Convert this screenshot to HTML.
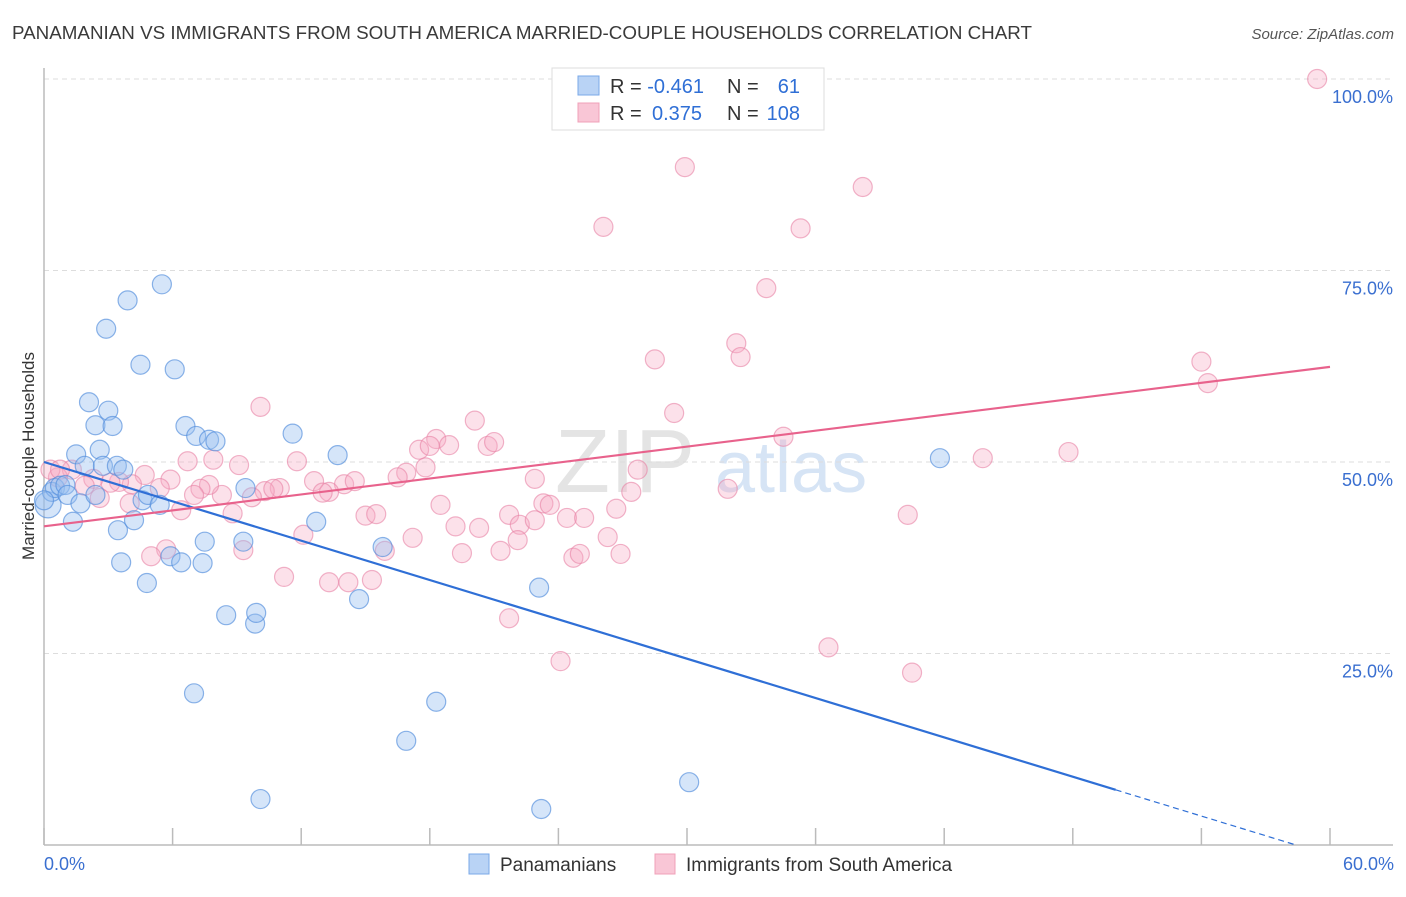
<!DOCTYPE html>
<html><head><meta charset="utf-8"><style>
body{margin:0;background:#fff;font-family:"Liberation Sans",sans-serif;}
svg text{font-family:"Liberation Sans",sans-serif;}
</style></head><body>
<svg id="chart" width="1406" height="892" xmlns="http://www.w3.org/2000/svg">
<text x="12" y="39" font-size="18.5" fill="#3a3a3a" textLength="1020" lengthAdjust="spacingAndGlyphs">PANAMANIAN VS IMMIGRANTS FROM SOUTH AMERICA MARRIED-COUPLE HOUSEHOLDS CORRELATION CHART</text>
<text x="1394" y="39" font-size="15" fill="#555" font-style="italic" text-anchor="end">Source: ZipAtlas.com</text>
<text x="555" y="492" font-size="90" fill="#e4e4e4" font-family="Liberation Serif">ZIP</text>
<text x="715" y="492" font-size="72" fill="#d6e4f5">atlas</text>
<g id="grid"></g>
<g id="axes"></g>
<g id="pts"></g>
<g id="lines"></g>
<text transform="translate(34,456) rotate(-90)" font-size="17" fill="#333" text-anchor="middle">Married-couple Households</text>
<g>
<rect x="552" y="68" width="272" height="62" fill="#fff" stroke="#ddd"/>
<rect x="578" y="76" width="21" height="19" fill="#b9d3f5" stroke="#7aa8e8"/>
<rect x="578" y="103" width="21" height="19" fill="#f9c6d6" stroke="#f0a0b8"/>
<text x="610" y="93" font-size="20" fill="#333">R = <tspan fill="#2f6fd6">-0.461</tspan></text>
<text x="727" y="93" font-size="20" fill="#333">N =</text>
<text x="800" y="93" font-size="20" fill="#2f6fd6" text-anchor="end">61</text>
<text x="610" y="120" font-size="20" fill="#333">R = </text>
<text x="652" y="120" font-size="20" fill="#2f6fd6">0.375</text>
<text x="727" y="120" font-size="20" fill="#333">N =</text>
<text x="800" y="120" font-size="20" fill="#2f6fd6" text-anchor="end">108</text>
</g>
<g>
<rect x="469" y="854" width="20" height="20" fill="#b9d3f5" stroke="#7aa8e8"/>
<text x="500" y="871" font-size="19" fill="#333">Panamanians</text>
<rect x="655" y="854" width="20" height="20" fill="#f9c6d6" stroke="#f0a0b8"/>
<text x="686" y="871" font-size="19" fill="#333">Immigrants from South America</text>
</g>
<text x="44" y="870" font-size="18" fill="#3a6fd0">0.0%</text>
<text x="1394" y="870" font-size="18" fill="#3a6fd0" text-anchor="end">60.0%</text>
</svg>
<script>
const yTicks=[25,50,75,100];
const yTickLabels=["25.0%","50.0%","75.0%","100.0%"];
const xTicks=[0,6,12,18,24,30,36,42,48,54,60];
const blueX=[0.19,0.37,0.51,0.75,1.0,1.1,1.35,1.5,1.7,1.9,2.1,2.4,2.4,2.6,2.75,2.9,3.0,3.2,3.4,3.45,3.6,3.7,3.9,4.2,4.5,4.6,4.8,4.85,5.4,5.5,5.9,6.1,6.4,6.6,7.0,7.1,7.4,7.5,7.7,8.0,8.5,9.3,9.4,9.85,9.9,10.1,11.6,12.7,13.7,14.7,15.8,16.9,18.3,23.1,23.2,30.1,41.8,0];
const blueY=[44.4,46.1,46.6,46.9,47.0,45.7,42.2,51.0,44.6,49.5,57.8,45.7,54.8,51.6,49.5,67.4,56.7,54.7,49.5,41.1,36.9,49.0,71.1,42.4,62.7,45.0,34.2,45.7,44.4,73.2,37.7,62.1,36.9,54.7,19.8,53.4,36.8,39.6,52.9,52.7,30.0,39.6,46.6,28.9,30.3,6.0,53.7,42.2,50.9,32.1,38.9,13.6,18.7,33.6,4.7,8.2,50.5,45.0];
const pinkX=[59.4,29.9,38.2,26.1,35.3,33.7,32.3,32.5,28.5,54.0,54.3,29.4,20.1,34.5,47.8,43.8,18.3,17.5,18.0,18.9,20.7,21.0,17.8,16.9,16.5,27.7,22.9,10.1,6.7,7.9,9.1,11.8,12.6,14.0,14.5,15.0,15.5,13.3,13.0,11.0,10.3,10.7,9.7,8.3,7.7,7.3,7.0,5.9,5.4,4.7,4.1,3.5,3.1,2.6,2.3,1.9,1.3,0.65,0.3,0.75,18.5,19.2,20.3,21.3,21.7,22.2,22.9,23.3,23.6,24.4,25.2,26.7,27.4,26.3,26.9,24.7,25.0,22.1,19.5,17.2,15.9,15.3,14.2,13.3,11.2,12.1,9.3,8.8,6.4,5.7,5.0,4.0,21.7,24.1,36.6,40.5,40.3,31.9];
const pinkY=[100,88.5,85.9,80.7,80.5,72.7,65.5,63.7,63.4,63.1,60.3,56.4,55.4,53.3,51.3,50.5,53.0,51.6,52.1,52.2,52.1,52.6,49.3,48.6,48.0,49.0,47.8,57.2,50.1,50.3,49.6,50.1,47.5,47.1,47.5,43.0,43.2,46.1,46.0,46.6,46.2,46.5,45.4,45.7,47.0,46.5,45.7,47.7,46.6,48.3,47.1,47.4,47.3,45.3,47.8,46.9,49.0,48.0,49.0,49.0,44.4,41.6,41.4,38.4,43.1,41.8,42.4,44.6,44.4,42.7,42.7,43.9,46.1,40.2,38.0,37.5,38.0,39.8,38.1,40.1,38.4,34.6,34.3,34.3,35.0,40.5,38.5,43.3,43.7,38.6,37.7,44.6,29.6,24.0,25.8,22.5,43.1,46.5];
const blueLine=[50.0,-0.856];
const pinkLine=[41.6,0.347];
const NS='http://www.w3.org/2000/svg';
const X=v=>44+v/60*1286, Y=v=>845-v/100*766;
function mk(t,a,p){const e=document.createElementNS(NS,t);for(const k in a)e.setAttribute(k,a[k]);p.appendChild(e);return e;}
const grid=document.getElementById('grid'),axes=document.getElementById('axes'),pts=document.getElementById('pts'),lines=document.getElementById('lines');
yTicks.forEach((t,i)=>{
 const l=mk('line',{x1:44,x2:1393,y1:Y(t),y2:Y(t),stroke:'#ddd','stroke-dasharray':'5,4'},grid);
 
 
 const tx=mk('text',{x:1393,y:Y(t)+24,'font-size':18,fill:'#3a6fd0','text-anchor':'end'},grid);
 tx.textContent=yTickLabels[i];
 
 
});
const ya=mk('line',{x1:44,x2:44,y1:68,y2:845,stroke:'#bbb','stroke-width':1.5},axes);


const xa=mk('line',{x1:44,x2:1393,y1:845,y2:845,stroke:'#bbb','stroke-width':1.5},axes);


xTicks.forEach(t=>{
 const l=mk('line',{x1:X(t),x2:X(t),y1:828,y2:845,stroke:'#bbb','stroke-width':1.5},axes);
 
 
});
pinkX.forEach((x,i)=>{
 const c=mk('circle',{cx:X(x),cy:Y(pinkY[i]),r:9.5,fill:'rgba(246,170,195,0.35)',stroke:'rgba(232,130,165,0.6)','stroke-width':1.2},pts);
 
 
});
blueX.forEach((x,i)=>{
 const c=mk('circle',{cx:X(x),cy:Y(blueY[i]),r:i==0?13:9.5,fill:'rgba(150,190,240,0.4)',stroke:'rgba(80,140,220,0.65)','stroke-width':1.2},pts);
 
 
});
const bEnd=50, bZero=-blueLine[0]/blueLine[1];
const bl=mk('line',{x1:X(0),y1:Y(blueLine[0]),x2:X(bEnd),y2:Y(blueLine[0]+blueLine[1]*bEnd),stroke:'#2f6fd6','stroke-width':2.2},lines);


const bd=mk('line',{x1:X(bEnd),y1:Y(blueLine[0]+blueLine[1]*bEnd),x2:X(bZero),y2:Y(0),stroke:'#2f6fd6','stroke-width':1.2,'stroke-dasharray':'6,4'},lines);


const pl=mk('line',{x1:X(0),y1:Y(pinkLine[0]),x2:X(60),y2:Y(pinkLine[0]+pinkLine[1]*60),stroke:'#e8628c','stroke-width':2.2},lines);


</script>
</body></html>
